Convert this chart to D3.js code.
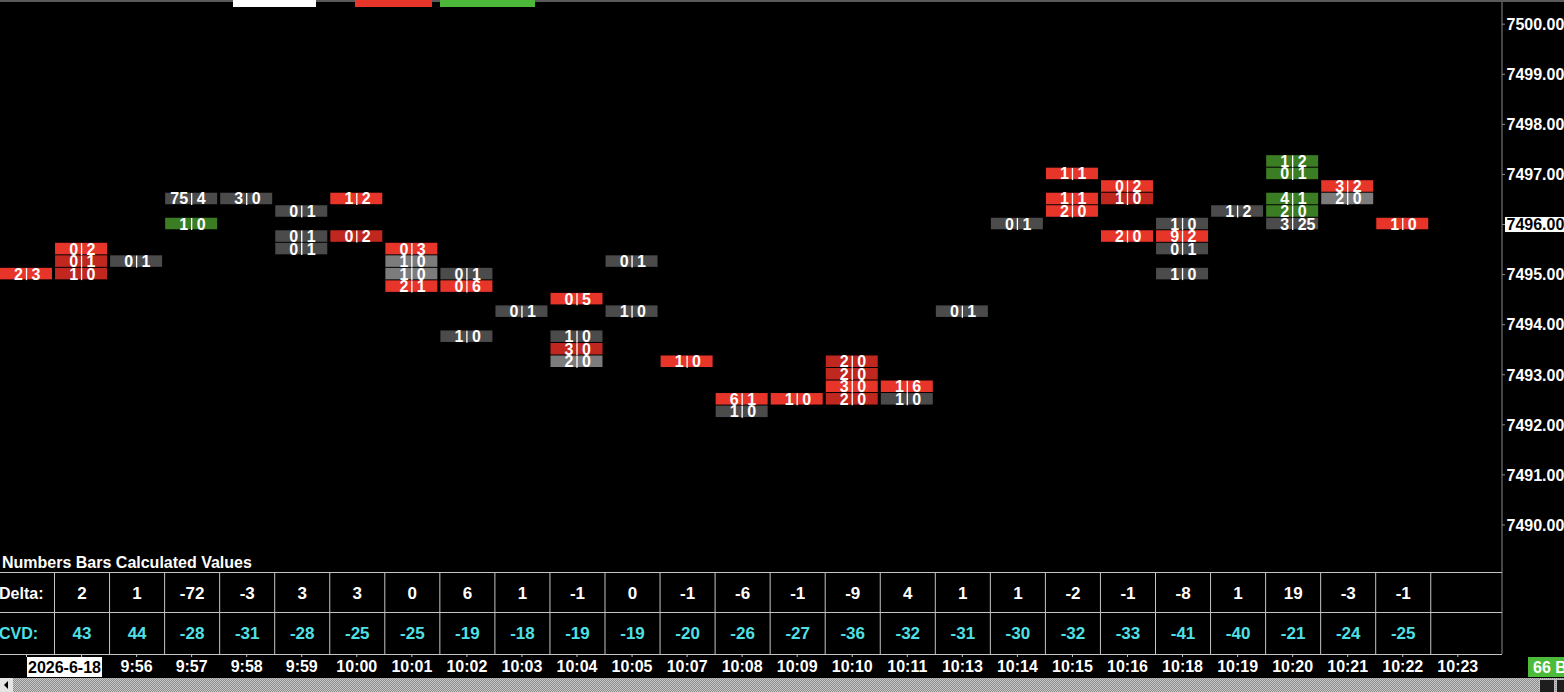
<!DOCTYPE html>
<html>
<head>
<meta charset="utf-8">
<script src="https://cdn.jsdelivr.net/npm/d3@7/dist/d3.min.js"></script>
<style>
  html, body { margin: 0; padding: 0; background: #000; overflow: hidden; }
  svg { display: block; font-family: "Liberation Sans", Arial, sans-serif; font-weight: bold; }
</style>
</head>
<body>
<svg id="chart" width="1564" height="692"></svg>
<script>
// ---------- DATA ----------
const timeLabels = ["2026-6-18", "", "9:56", "9:57", "9:58", "9:59", "10:00", "10:01", "10:02", "10:03",
  "10:04", "10:05", "10:07", "10:08", "10:09", "10:10", "10:11", "10:13", "10:14", "10:15",
  "10:16", "10:18", "10:19", "10:20", "10:21", "10:22", "10:23"];

const priceTicks = [7500, 7499, 7498, 7497, 7496, 7495, 7494, 7493, 7492, 7491, 7490];
const lastPrice = 7496;

const deltaValues = [null, 2, 1, -72, -3, 3, 3, 0, 6, 1, -1, 0, -1, -6, -1, -9, 4, 1, 1, -2, -1, -8, 1, 19, -3, -1, null];
const cvdValues = [null, 43, 44, -28, -31, -28, -25, -25, -19, -18, -19, -19, -20, -26, -27, -36, -32, -31, -30, -32, -33, -41, -40, -21, -24, -25, null];

// footprint cells: bar index, price level, bid volume, ask volume, shade category
const cellBar = [0, 1, 1, 1, 2, 3, 3, 4, 5, 5, 5, 6, 6, 7, 7, 7, 7, 8, 8, 8, 9, 10, 10, 10, 10, 11, 11, 12, 13, 13,
  14, 15, 15, 15, 15, 16, 16, 17, 18, 19, 19, 19, 20, 20, 20, 21, 21, 21, 21, 22, 23, 23, 23, 23, 23, 24, 24, 25];
const cellPrice = [7495.00, 7495.50, 7495.25, 7495.00, 7495.25, 7496.50, 7496.00, 7496.50, 7496.25, 7495.75,
  7495.50, 7496.50, 7495.75, 7495.50, 7495.25, 7495.00, 7494.75, 7495.00, 7494.75, 7493.75,
  7494.25, 7494.50, 7493.75, 7493.50, 7493.25, 7495.25, 7494.25, 7493.25, 7492.50, 7492.25,
  7492.50, 7493.25, 7493.00, 7492.75, 7492.50, 7492.75, 7492.50, 7494.25, 7496.00, 7497.00,
  7496.50, 7496.25, 7496.75, 7496.50, 7495.75, 7496.00, 7495.75, 7495.50, 7495.00, 7496.25,
  7497.25, 7497.00, 7496.50, 7496.25, 7496.00, 7496.75, 7496.50, 7496.00];
const cellBid = [2, 0, 0, 1, 0, 75, 1, 3, 0, 0, 0, 1, 0, 0, 1, 1, 2, 0, 0, 1, 0, 0, 1, 3, 2, 0, 1, 1, 6, 1,
  1, 2, 2, 3, 2, 1, 1, 0, 0, 1, 1, 2, 0, 1, 2, 1, 9, 0, 1, 1, 1, 0, 4, 2, 3, 3, 2, 1];
const cellAsk = [3, 2, 1, 0, 1, 4, 0, 0, 1, 1, 1, 2, 2, 3, 0, 0, 1, 1, 6, 0, 1, 5, 0, 0, 0, 1, 0, 0, 1, 0,
  0, 0, 0, 0, 0, 6, 0, 1, 1, 1, 1, 0, 2, 0, 0, 0, 2, 1, 0, 2, 2, 1, 1, 0, 25, 2, 0, 0];
const cellShade = ["R", "R", "D", "D", "G", "G", "V", "G", "G", "G", "G", "R", "D", "R", "L", "L", "R", "G", "R", "G",
  "G", "R", "G", "D", "L", "G", "G", "R", "R", "G", "R", "D", "D", "R", "D", "R", "G", "G", "G", "R",
  "R", "R", "R", "D", "R", "G", "R", "G", "G", "G", "V", "V", "V", "V", "G", "R", "L", "R"];

// ---------- LAYOUT ----------
const W = 1564, H = 692;
const axisX = 1502;
const svg = d3.select("#chart");

const x = d3.scaleLinear().domain([0, timeLabels.length - 1]).range([26, 26 + 55.05 * (timeLabels.length - 1)]);
const y = d3.scaleLinear().domain([7490, 7500]).range([524.5, 23.7]);
const rowH = y(7490) - y(7490.25);
const colW = 52;

const shadeColor = d3.scaleOrdinal()
  .domain(["R", "D", "G", "L", "V"])
  .range(["#e8352a", "#bf271f", "#4b4b4b", "#7c7c7c", "#3a7d22"]);

// background
svg.append("rect").attr("width", W).attr("height", H).attr("fill", "#000");

// top header strip (mostly clipped)
svg.append("rect").attr("x", 0).attr("y", 0).attr("width", W).attr("height", 2).attr("fill", "#5a5a5a");
svg.append("rect").attr("x", 233).attr("y", 0).attr("width", 83).attr("height", 7).attr("fill", "#ffffff");
svg.append("rect").attr("x", 355).attr("y", 0).attr("width", 77).attr("height", 7).attr("fill", "#e8352a");
svg.append("rect").attr("x", 440).attr("y", 0).attr("width", 95).attr("height", 7).attr("fill", "#4cb83a");

// ---------- FOOTPRINT CELLS ----------
const cells = cellBar.map((b, i) => ({
  bar: b, price: cellPrice[i], bid: cellBid[i], ask: cellAsk[i], shade: cellShade[i]
}));

const cg = svg.append("g").attr("class", "cells");
const cell = cg.selectAll("g.cell").data(cells).join("g").attr("class", "cell");
cell.append("rect")
  .attr("x", d => x(d.bar) - colW / 2)
  .attr("y", d => y(d.price) - rowH / 2)
  .attr("width", colW)
  .attr("height", rowH - 1)
  .attr("fill", d => shadeColor(d.shade));
cell.append("text")
  .attr("x", d => x(d.bar) - 3)
  .attr("y", d => y(d.price) + 5.5)
  .attr("text-anchor", "end")
  .attr("font-size", 16)
  .attr("fill", "#fff")
  .text(d => d.bid);
cell.append("text")
  .attr("x", d => x(d.bar) + 5.5)
  .attr("y", d => y(d.price) + 5.5)
  .attr("text-anchor", "start")
  .attr("font-size", 16)
  .attr("fill", "#fff")
  .text(d => d.ask);
cell.append("line")
  .attr("x1", d => x(d.bar) + 0.5).attr("x2", d => x(d.bar) + 0.5)
  .attr("y1", d => y(d.price) - 6).attr("y2", d => y(d.price) + 6)
  .attr("stroke", "#fff").attr("stroke-width", 1.3);

// ---------- RIGHT PRICE AXIS ----------
svg.append("line").attr("x1", axisX).attr("x2", axisX).attr("y1", 2).attr("y2", 654)
  .attr("stroke", "#8a8a8a").attr("stroke-width", 1);
const yAxis = d3.axisRight(y).tickValues(priceTicks).tickFormat(d3.format(".2f")).tickSize(3).tickPadding(1.5);
const yg = svg.append("g").attr("transform", `translate(${axisX},0)`).call(yAxis);
yg.select(".domain").remove();
yg.selectAll(".tick line").attr("stroke", "#8a8a8a");
yg.selectAll(".tick text")
  .attr("font-size", 16).attr("font-weight", "bold").attr("fill", "#fff")
  .attr("font-family", "Liberation Sans, Arial, sans-serif")
  .attr("dy", "0.36em");
// current price label highlight
yg.selectAll(".tick").filter(d => d === lastPrice).each(function () {
  const t = d3.select(this);
  t.insert("rect", "text").attr("x", 3).attr("y", -7.5).attr("width", 70).attr("height", 15).attr("fill", "#fff");
  t.select("text").attr("fill", "#000");
});

// ---------- CALCULATED VALUES TABLE ----------
svg.append("text").attr("x", 2).attr("y", 568).attr("font-size", 16).attr("fill", "#fff")
  .text("Numbers Bars Calculated Values");

const tableTop = 572, rowMid = 612, tableBottom = 654;
const lineCol = "#c4c4c4";
[tableTop, rowMid, tableBottom].forEach(yy => {
  svg.append("line").attr("x1", 0).attr("x2", axisX).attr("y1", yy + 0.5).attr("y2", yy + 0.5)
    .attr("stroke", lineCol).attr("stroke-width", 1);
});
const sepIdx = d3.range(0, timeLabels.length - 1);
svg.selectAll("line.sep").data(sepIdx).join("line").attr("class", "sep")
  .attr("x1", d => x(d) + 28.5).attr("x2", d => x(d) + 28.5)
  .attr("y1", tableTop).attr("y2", tableBottom)
  .attr("stroke", lineCol).attr("stroke-width", 1);

svg.append("text").attr("x", -1).attr("y", 599).attr("font-size", 16).attr("fill", "#fff").text("Delta:");
svg.append("text").attr("x", -1).attr("y", 639).attr("font-size", 16).attr("fill", "#4fe0e6").text("CVD:");

const idx = d3.range(timeLabels.length);
svg.selectAll("text.delta").data(idx.filter(i => deltaValues[i] !== null)).join("text").attr("class", "delta")
  .attr("x", i => x(i) + 1).attr("y", 599).attr("text-anchor", "middle")
  .attr("font-size", 17).attr("fill", "#fff").text(i => deltaValues[i]);
svg.selectAll("text.cvd").data(idx.filter(i => cvdValues[i] !== null)).join("text").attr("class", "cvd")
  .attr("x", i => x(i) + 1).attr("y", 639).attr("text-anchor", "middle")
  .attr("font-size", 17).attr("fill", "#4fe0e6").text(i => cvdValues[i]);

// ---------- TIME AXIS ----------
const xAxis = d3.axisBottom(x).tickValues(idx).tickFormat(i => i === 0 ? "" : timeLabels[i]).tickSize(3).tickPadding(4);
const xg = svg.append("g").attr("transform", `translate(0,${tableBottom})`).call(xAxis);
xg.select(".domain").remove();
xg.selectAll(".tick line").attr("stroke", "#c4c4c4");
xg.selectAll(".tick text")
  .attr("font-size", 16).attr("font-weight", "bold").attr("fill", "#fff")
  .attr("font-family", "Liberation Sans, Arial, sans-serif");
// date label box on first bar
const dateG = svg.append("g");
dateG.append("rect").attr("x", x(0) + 1).attr("y", 657).attr("width", 75).attr("height", 20).attr("fill", "#fff");
dateG.append("text").attr("x", x(0) + 2).attr("y", 673).attr("font-size", 16).attr("fill", "#000").text(timeLabels[0]);

// bar count box
svg.append("rect").attr("x", 1528).attr("y", 657).attr("width", 40).attr("height", 20).attr("fill", "#4cbb3a");
svg.append("text").attr("x", 1533).attr("y", 673).attr("font-size", 16).attr("fill", "#fff").text("66 B");

// ---------- SCROLLBAR ----------
const defs = svg.append("defs");
const pat = defs.append("pattern").attr("id", "dither").attr("width", 2).attr("height", 2).attr("patternUnits", "userSpaceOnUse");
pat.append("rect").attr("width", 2).attr("height", 2).attr("fill", "#8c8c8c");
pat.append("rect").attr("width", 1).attr("height", 1).attr("fill", "#c8c8c8");
pat.append("rect").attr("x", 1).attr("y", 1).attr("width", 1).attr("height", 1).attr("fill", "#c8c8c8");
svg.append("rect").attr("x", 0).attr("y", 678).attr("width", W).attr("height", 14).attr("fill", "url(#dither)");
svg.append("rect").attr("x", 0).attr("y", 678).attr("width", 13).attr("height", 14).attr("fill", "#e4e4e4");
svg.append("path").attr("d", "M4,685 L8,681 L8,689 Z").attr("fill", "#000");
svg.append("rect").attr("x", 1539.5).attr("y", 679.5).attr("width", 15).attr("height", 13).attr("fill", "#1e1e1e").attr("stroke", "#bbb");
svg.append("rect").attr("x", 1556.5).attr("y", 679.5).attr("width", 15).attr("height", 13).attr("fill", "#1e1e1e").attr("stroke", "#bbb");
</script>
</body>
</html>
